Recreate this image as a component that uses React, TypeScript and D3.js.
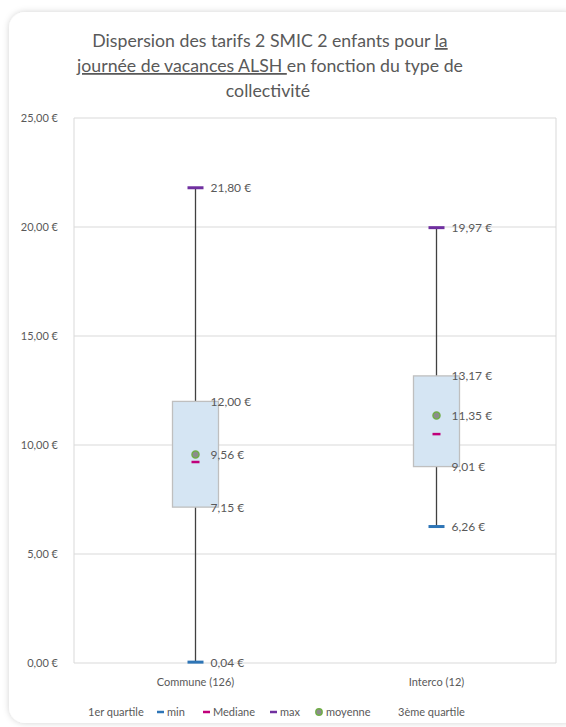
import React from "react";
import * as d3 from "d3";

const categories = ["Commune (126)", "Interco (12)"];
const minValues = [0.04, 6.26];
const q1Values = [7.15, 9.01];
const medianValues = [9.22, 10.5];
const meanValues = [9.56, 11.35];
const q3Values = [12.0, 13.17];
const maxValues = [21.8, 19.97];
const yTicks = [0, 5, 10, 15, 20, 25];
const legendItems = ["1er quartile", "min", "Mediane", "max", "moyenne", "3ème quartile"];

const W = 566, H = 727;
const FONT = "Lato, 'Open Sans', sans-serif";
const fmt = (v: number) => v.toFixed(2).replace(".", ",") + " €";

export default function App() {
  const plot = { left: 74, right: 556, top: 118, bottom: 663 };
  const y = d3.scaleLinear().domain([0, 25]).range([plot.bottom, plot.top]);
  const x = d3.scaleBand().domain(categories).range([plot.left + 1, plot.right + 1]);
  const bw = 46;
  const colors = { min: "#2E75B6", median: "#C0007A", max: "#7030A0", meanStroke: "#70AD47", meanFill: "#8C8C8C" };
  const legendX = [88, 157, 203, 270, 316, 398];

  return (
    <svg width={W} height={H} style={{ position: "absolute", left: 0, top: 0, fontFamily: FONT }}>
      <defs>
        <filter id="sh" x="-5%" y="-5%" width="110%" height="110%">
          <feDropShadow dx="0" dy="0" stdDeviation="3" floodColor="#000" floodOpacity="0.18" />
        </filter>
      </defs>
      <rect x={9} y={12} width={570} height={711} rx={16} fill="#fff" filter="url(#sh)" />
      {/* title */}
      <g fill="#595959" fontSize={17.7} textAnchor="middle">
        <text x={270} y={47}>
          Dispersion des tarifs 2 SMIC 2 enfants pour <tspan textDecoration="underline">la</tspan>
        </text>
        <text x={270} y={72}>
          <tspan textDecoration="underline">journée de vacances ALSH </tspan>en fonction du type de
        </text>
        <text x={268} y={97}>collectivité</text>
      </g>
      {/* plot area */}
      {yTicks.map((t) => (
        <line key={t} x1={plot.left} x2={plot.right} y1={y(t)} y2={y(t)} stroke="#d9d9d9" strokeWidth={1} />
      ))}
      <line x1={plot.left} x2={plot.left} y1={plot.top} y2={plot.bottom} stroke="#d9d9d9" />
      <line x1={plot.right} x2={plot.right} y1={plot.top} y2={plot.bottom} stroke="#d9d9d9" />
      {yTicks.map((t) => (
        <text key={t} x={58} y={y(t) + 4} fontSize={11} fill="#595959" textAnchor="end">
          {fmt(t)}
        </text>
      ))}
      {categories.map((c, i) => {
        const cx = (x(c) as number) + x.bandwidth() / 2;
        const lx = cx + 15;
        return (
          <g key={c}>
            <line x1={cx} x2={cx} y1={y(maxValues[i])} y2={y(minValues[i])} stroke="#404040" strokeWidth={1.3} />
            <rect x={cx - bw / 2} y={y(q3Values[i])} width={bw} height={y(q1Values[i]) - y(q3Values[i])}
              fill="#D5E5F3" stroke="#BFBFBF" strokeWidth={1.3} />
            <line x1={cx - 8} x2={cx + 8} y1={y(minValues[i])} y2={y(minValues[i])} stroke={colors.min} strokeWidth={3} />
            <line x1={cx - 8} x2={cx + 8} y1={y(maxValues[i])} y2={y(maxValues[i])} stroke={colors.max} strokeWidth={3} />
            <line x1={cx - 4} x2={cx + 4} y1={y(medianValues[i])} y2={y(medianValues[i])} stroke={colors.median} strokeWidth={2.5} />
            <circle cx={cx} cy={y(meanValues[i])} r={3.5} fill={colors.meanFill} stroke={colors.meanStroke} strokeWidth={1.5} />
            {[maxValues[i], q3Values[i], meanValues[i], q1Values[i], minValues[i]].map((v, k) => (
              <text key={k} x={lx} y={y(v) + 4.5} fontSize={12} fill="#595959">{fmt(v)}</text>
            ))}
            <text x={cx} y={686} fontSize={11} fill="#595959" textAnchor="middle">{c}</text>
          </g>
        );
      })}
      {/* legend */}
      <g fontSize={11} fill="#595959">
        {legendItems.map((l, i) => {
          const lx = legendX[i];
          let marker = null;
          let tx = lx;
          if (l === "min" || l === "Mediane" || l === "max") {
            const col = l === "min" ? colors.min : l === "Mediane" ? colors.median : colors.max;
            marker = <line x1={lx} x2={lx + 7} y1={712} y2={712} stroke={col} strokeWidth={2.5} />;
            tx = lx + 10;
          } else if (l === "moyenne") {
            marker = <circle cx={lx + 3} cy={712} r={3.2} fill={colors.meanFill} stroke={colors.meanStroke} strokeWidth={1.4} />;
            tx = lx + 10;
          }
          return (
            <g key={l}>
              {marker}
              <text x={tx} y={716}>{l}</text>
            </g>
          );
        })}
      </g>
    </svg>
  );
}
